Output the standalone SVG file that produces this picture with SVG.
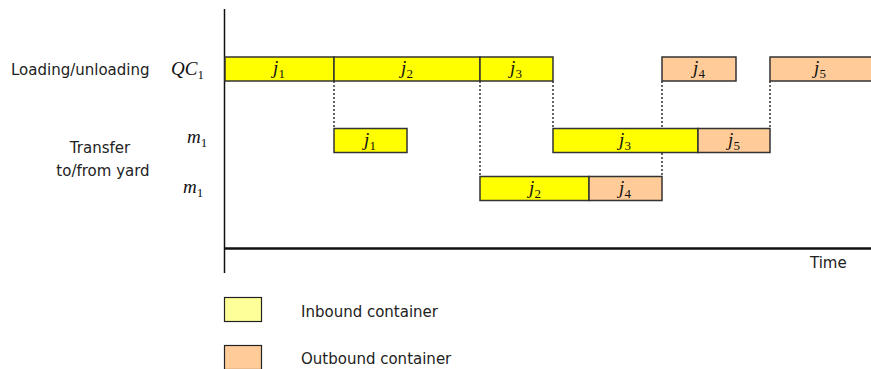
<svg xmlns="http://www.w3.org/2000/svg" width="871" height="369" viewBox="0 0 871 369">
<style>
.lbl{font-family:"DejaVu Sans",Verdana,sans-serif;font-size:15px;fill:#222}
.math{font-family:"Liberation Serif","Times New Roman",serif;font-style:italic;font-size:19px;fill:#111}
.sub{font-style:normal;font-size:13px}
.in{fill:#FFFF00;stroke:#333;stroke-width:1.5}
.out{fill:#FFCC99;stroke:#333;stroke-width:1.5}
.dash{stroke:#333;stroke-width:1.5;stroke-dasharray:2,2;fill:none}
.axis{stroke:#111;fill:none}
</style>
<rect width="871" height="369" fill="#fff"/>
<g id="labels">
<text class="lbl" x="11" y="75">Loading/unloading</text>
<text class="lbl" x="100" y="153" text-anchor="middle">Transfer</text>
<text class="lbl" x="103" y="176" text-anchor="middle">to/from yard</text>
<text class="math" x="171" y="75">QC<tspan class="sub" dy="4">1</tspan></text>
<text class="math" x="187" y="143">m<tspan class="sub" dy="4">1</tspan></text>
<text class="math" x="183" y="193">m<tspan class="sub" dy="4">1</tspan></text>
<text class="lbl" x="810" y="268">Time</text>
</g>
<g id="connectors">
<line class="axis" x1="224.5" y1="9" x2="224.5" y2="273" stroke-width="1.5"/>
<line class="axis" x1="224.5" y1="248.5" x2="871" y2="248.5" stroke-width="2.5"/>
<line class="dash" x1="334" y1="81" x2="334" y2="128"/>
<line class="dash" x1="480" y1="81" x2="480" y2="176"/>
<line class="dash" x1="553" y1="81" x2="553" y2="128"/>
<line class="dash" x1="662" y1="81" x2="662" y2="176"/>
<line class="dash" x1="770" y1="81" x2="770" y2="128"/>
</g>
<g id="qc-j1"><rect class="in" x="225" y="57" width="109" height="24"/><text class="math" x="279" y="74" text-anchor="middle">j<tspan class="sub" dy="4">1</tspan></text></g>
<g id="qc-j2"><rect class="in" x="334" y="57" width="146" height="24"/><text class="math" x="407" y="74" text-anchor="middle">j<tspan class="sub" dy="4">2</tspan></text></g>
<g id="qc-j3"><rect class="in" x="480" y="57" width="73" height="24"/><text class="math" x="516" y="74" text-anchor="middle">j<tspan class="sub" dy="4">3</tspan></text></g>
<g id="qc-j4"><rect class="out" x="662" y="57" width="74" height="24"/><text class="math" x="699" y="74" text-anchor="middle">j<tspan class="sub" dy="4">4</tspan></text></g>
<g id="qc-j5"><rect class="out" x="770" y="57" width="110" height="24"/><text class="math" x="820" y="74" text-anchor="middle">j<tspan class="sub" dy="4">5</tspan></text></g>
<g id="m1a-j1"><rect class="in" x="334" y="128.5" width="73" height="24"/><text class="math" x="370" y="146" text-anchor="middle">j<tspan class="sub" dy="4">1</tspan></text></g>
<g id="m1a-j3"><rect class="in" x="553" y="128.5" width="145" height="24"/><text class="math" x="625" y="146" text-anchor="middle">j<tspan class="sub" dy="4">3</tspan></text></g>
<g id="m1a-j5"><rect class="out" x="698" y="128.5" width="72" height="24"/><text class="math" x="734" y="146" text-anchor="middle">j<tspan class="sub" dy="4">5</tspan></text></g>
<g id="m1b-j2"><rect class="in" x="480" y="176.5" width="109" height="24"/><text class="math" x="535" y="194" text-anchor="middle">j<tspan class="sub" dy="4">2</tspan></text></g>
<g id="m1b-j4"><rect class="out" x="589" y="176.5" width="73" height="24"/><text class="math" x="625" y="194" text-anchor="middle">j<tspan class="sub" dy="4">4</tspan></text></g>
<g id="legend-in"><rect x="224.5" y="297.5" width="37" height="24" fill="#FFFF99" stroke="#222" stroke-width="1.2"/><text class="lbl" x="301" y="317">Inbound container</text></g>
<g id="legend-out"><rect x="224.5" y="345.5" width="37" height="24" fill="#FFCC99" stroke="#222" stroke-width="1.2"/><text class="lbl" x="301" y="364">Outbound container</text></g>
</svg>
